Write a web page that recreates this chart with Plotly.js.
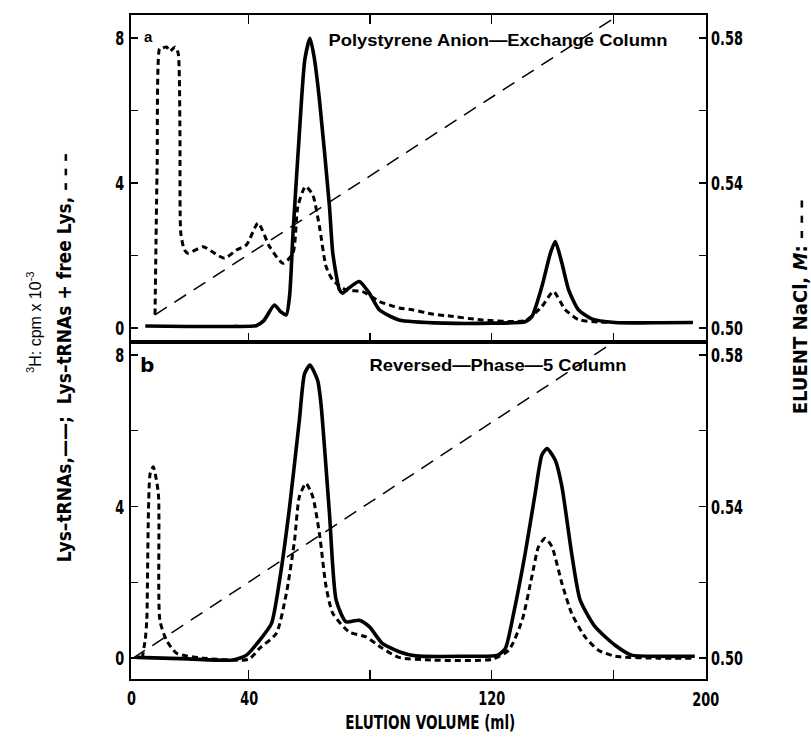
<!DOCTYPE html>
<html>
<head>
<meta charset="utf-8">
<script src="https://cdn.plot.ly/plotly-3.0.1.min.js"></script>
<style>
html,body{margin:0;padding:0;background:#fff;}
#chart{width:811px;height:748px;}
</style>
</head>
<body>
<div id="chart"></div>
<script>
// ---- Panel a: Polystyrene Anion-Exchange Column ----
const aSolidX = [6,20,35,42.5,45,48.5,50.5,52.4,53.5,54.6,56.7,58.5,60.2,61.5,63.3,66.6,67.7,69.9,70.9,73,76.4,79.7,83,89.5,104.8,120,131,133.2,136.5,139.3,140.9,143.1,145.3,148.5,152.9,160.5,175,186.2];
const aSolidY = [0.05,0.04,0.04,0.06,0.2,0.63,0.45,0.36,0.9,2.6,5.37,7.4,7.99,7.5,6.3,3.35,2.06,1.05,0.96,1.1,1.28,0.96,0.5,0.22,0.13,0.13,0.17,0.31,1.14,2.06,2.38,1.78,1.05,0.5,0.25,0.15,0.14,0.15];
const aDashX = [9.2,9.9,10.7,11.4,13,14.1,15.8,16.8,17.4,17.7,18.9,20.1,25,28,32.1,36,39.3,43.1,46.9,51.3,54.6,56.2,58.7,61.1,63.3,65.5,67.7,72,77.5,83,89.5,93.9,100.4,104.8,116.8,131,136.5,140.3,144.2,148.5,155,170,186];
const aDashY = [0.36,4.5,7.7,7.71,7.75,7.63,7.75,7.58,5.4,2.6,2.15,2.06,2.24,2.1,1.92,2.15,2.29,2.89,2.24,1.78,2.06,3.35,3.9,3.67,2.8,1.69,1.32,1.05,1.0,0.73,0.55,0.5,0.38,0.34,0.22,0.2,0.59,1.0,0.5,0.23,0.16,0.15,0.15];
const aNaClX = [9.2,161.3];
const aNaClY = [0.5036,0.586];

// ---- Panel b: Reversed-Phase-5 Column ----
const bSolidX = [3.2,20,34.9,39.3,43.6,47.5,50.2,53.5,56.7,58.4,60.2,62.7,63.8,66.6,68.8,72,76.4,79.7,84,89.5,95,110,122,124.5,127.2,131,134.3,136.5,138.2,140.9,143.1,146.3,149.1,154,160.6,166,175,186.8];
const bSolidY = [0.02,-0.02,-0.05,0.08,0.47,0.91,2.06,4.0,6.28,7.5,7.73,7.33,6.72,3.82,1.53,0.96,1.0,0.83,0.39,0.17,0.06,0.05,0.08,0.26,1.18,2.76,4.35,5.36,5.53,5.22,4.52,2.76,1.53,0.83,0.34,0.08,0.05,0.05];
const bDashX = [5,6,6.5,7.6,8.6,10.3,10.8,13,16.3,25,40,43.6,49.1,52.4,55.1,56.7,58.9,61.1,63.3,65.5,67.7,73.1,78.6,84,89.5,100,120,125.6,130,133.2,135.4,137.6,139.8,143.1,146.3,150.7,155.1,160.6,175,186];
const bDashY = [0,0.5,1.0,4.87,5.05,4.35,1.0,0.47,0.13,0.0,-0.03,0.26,0.65,1.7,3.1,4.26,4.61,4.26,3.29,1.88,1.18,0.69,0.56,0.26,0.02,-0.05,-0.03,0.21,1.0,2.15,2.94,3.16,2.94,1.97,1.18,0.56,0.21,0.05,0.0,0.0];
const bNaClX = [2,159.4];
const bNaClY = [0.500,0.583];

// ---- ticks & labels ----
const xTickVals = [40,80,120,160];
const xLabelVals = [40,120];
const xLabelText = ["40","120"];
const xEdgeLabels = ["0","200"];
const cpmTickVals = [0,2,4,6,8];
const cpmLabelVals = [0,4,8];
const cpmLabelText = ["0","4","8"];
const naclTickVals = [0.50,0.52,0.54,0.56,0.58];
const naclLabelVals = [0.50,0.54,0.58];
const naclLabelText = ["0.50","0.54","0.58"];
const panelLetters = ["a","b"];
const panelTitles = ["Polystyrene Anion\u2014Exchange Column","Reversed\u2014Phase\u20145 Column"];
const xTitle = "ELUTION VOLUME (ml)";
const yTitle1 = "<sup>3</sup>H: cpm x 10<sup>-3</sup>";
const yTitle2 = "Lys\u2013tRNAs,\u2014\u2014;  Lys\u2013tRNAs + free Lys, \u2013 \u2013 \u2013";
const y2Title = "ELUENT NaCl, <i>M</i>: \u2013 \u2013 \u2013";

const narrow = "'DejaVu Sans',sans-serif";
const plain = "'Liberation Sans',Arial,sans-serif";
const tickFont = {family: narrow, size: 19, color: "#000", weight: "bold"};

const solidLine = {color: "#000", width: 3.6, shape: "spline", smoothing: 0.6};
const dashLine = {color: "#000", width: 3, dash: "6px,4px", shape: "spline", smoothing: 0.6};
const naclLine = {color: "#000", width: 1.5, dash: "14px,9px"};

const traces = [
  {x: aSolidX, y: aSolidY, xaxis: "x2", yaxis: "y", mode: "lines", line: solidLine, name: "Lys-tRNAs"},
  {x: aDashX, y: aDashY, xaxis: "x2", yaxis: "y", mode: "lines", line: dashLine, name: "Lys-tRNAs + free Lys"},
  {x: aNaClX, y: aNaClY, xaxis: "x2", yaxis: "y2", mode: "lines", line: naclLine, name: "NaCl"},
  {x: bSolidX, y: bSolidY, xaxis: "x", yaxis: "y3", mode: "lines", line: solidLine, name: "Lys-tRNAs"},
  {x: bDashX, y: bDashY, xaxis: "x", yaxis: "y3", mode: "lines", line: dashLine, name: "Lys-tRNAs + free Lys"},
  {x: bNaClX, y: bNaClY, xaxis: "x", yaxis: "y4", mode: "lines", line: naclLine, name: "NaCl"}
];

const xr = [1.3, 190.5];
const aR = [-0.39, 8.63];
const bR = [-0.55, 8.34];
const split = 0.5075;

const xBase = {range: xr, tickmode: "array", tickvals: xTickVals, showticklabels: false, ticks: "inside", ticklen: 9, tickwidth: 1.5, tickcolor: "#000",
  showline: true, linewidth: 2, linecolor: "#000", showgrid: false, zeroline: false};
const yBase = {tickmode: "array", showticklabels: false, ticks: "inside", ticklen: 7, tickwidth: 1.5, tickcolor: "#000", showline: true, linewidth: 2,
  linecolor: "#000", showgrid: false, zeroline: false};

const annFont = {family: narrow, size: 20, color: "#000", weight: "bold"};
const titleFont = {family: plain, size: 17, color: "#000", weight: "bold"};

const annotations = [
  {text: xEdgeLabels[0], xref: "paper", yref: "paper", x: 0, y: 0, yshift: -19, showarrow: false, font: tickFont, xanchor: "center", yanchor: "middle"},
  {text: xEdgeLabels[1], xref: "paper", yref: "paper", x: 1.0, y: 0, yshift: -20, showarrow: false, font: tickFont, xanchor: "center", yanchor: "middle"},
  {text: panelLetters[0], xref: "paper", yref: "paper", x: 0.0313, y: 0.9669, showarrow: false, font: {family: plain, size: 15, color: "#000", weight: "bold"}, xanchor: "center", yanchor: "middle"},
  {text: panelLetters[1], xref: "paper", yref: "paper", x: 0.0278, y: 0.4729, showarrow: false, font: annFont, xanchor: "center", yanchor: "middle"},
  {text: panelTitles[0], xref: "paper", yref: "paper", x: 0.6374, y: 0.9623, showarrow: false, font: titleFont, xanchor: "center", yanchor: "middle"},
  {text: panelTitles[1], xref: "paper", yref: "paper", x: 0.6374, y: 0.4714, showarrow: false, font: titleFont, xanchor: "center", yanchor: "middle"},
  {text: xTitle, xref: "paper", yref: "paper", x: 0.52, y: -0.0648, showarrow: false, font: annFont, xanchor: "center", yanchor: "middle"},
  {text: yTitle1, xref: "paper", yref: "paper", x: -0.1687, y: 0.5377, showarrow: false, textangle: -90, font: {family: plain, size: 16, color: "#000"}, xanchor: "center", yanchor: "middle"},
  {text: yTitle2, xref: "paper", yref: "paper", x: -0.1165, y: 0.4835, showarrow: false, textangle: -90, font: annFont, xanchor: "center", yanchor: "middle"},
  {text: y2Title, xref: "paper", yref: "paper", x: 1.163, y: 0.560, showarrow: false, textangle: -90, font: annFont, xanchor: "center", yanchor: "middle"}
];
// target lengths (px) of long texts, to mimic the condensed typeface of the original
const annLengths = {4: 339, 5: 257, 6: 170, 8: 409, 9: 215};
// horizontal scale of numeric labels, with the side that stays fixed
const annScale = {0: [0.68, "center"], 1: [0.68, "center"]};

// tick labels, placed through the axes' own scales
function addLabel(a) { annScale[annotations.length] = [0.68, a.xanchor]; annotations.push(a); }
xLabelVals.forEach(function (v, i) {
  addLabel({text: xLabelText[i], xref: "x", yref: "paper", x: v, y: 0, yshift: -19, showarrow: false, font: tickFont, xanchor: "center", yanchor: "middle"});
});
[["y", "y2"], ["y3", "y4"]].forEach(function (pair) {
  cpmLabelVals.forEach(function (v, i) {
    addLabel({text: cpmLabelText[i], xref: "paper", yref: pair[0], x: 0, xshift: -5, y: v, showarrow: false, font: tickFont, xanchor: "right", yanchor: "middle"});
  });
  naclLabelVals.forEach(function (v, i) {
    addLabel({text: naclLabelText[i], xref: "paper", yref: pair[1], x: 1, xshift: 3, y: v, showarrow: false, font: tickFont, xanchor: "left", yanchor: "middle"});
  });
});

const layout = {
  width: 811, height: 748,
  margin: {l: 131, r: 105, t: 15, b: 69},
  paper_bgcolor: "#fff", plot_bgcolor: "#fff",
  showlegend: false,
  xaxis: Object.assign({}, xBase, {anchor: "y3", mirror: true}),
  xaxis2: Object.assign({}, xBase, {anchor: "y", matches: "x", mirror: "ticks"}),
  yaxis: Object.assign({}, yBase, {domain: [split, 1], anchor: "x2", range: aR, tickvals: cpmTickVals}),
  yaxis2: Object.assign({}, yBase, {overlaying: "y", side: "right", anchor: "x2", range: [0.5 + aR[0]/100, 0.5 + aR[1]/100], tickvals: naclTickVals}),
  yaxis3: Object.assign({}, yBase, {domain: [0, split], anchor: "x", range: bR, tickvals: cpmTickVals}),
  yaxis4: Object.assign({}, yBase, {overlaying: "y3", side: "right", anchor: "x", range: [0.5 + bR[0]/100, 0.5 + bR[1]/100], tickvals: naclTickVals}),
  annotations: annotations
};

function squeezeLen(el, len) {
  el.setAttribute("textLength", String(len));
  el.setAttribute("lengthAdjust", "spacingAndGlyphs");
}
function squeezeScale(el, s, side) {
  if (el.getAttribute("data-sq")) return;
  let bb;
  try { bb = el.getBBox(); } catch (e) { return; }
  if (!bb || !bb.width) return;
  const fx = side === "right" ? bb.x + bb.width : (side === "left" ? bb.x : bb.x + bb.width / 2);
  const old = el.getAttribute("transform") || "";
  el.setAttribute("transform", (old + " translate(" + fx + ",0) scale(" + s + ",1) translate(" + (-fx) + ",0)").trim());
  el.setAttribute("data-sq", "1");
}

function condenseAll() {
  const gd = document.getElementById("chart");
  gd.querySelectorAll(".annotation").forEach(function (g, pos) {
    const idx = g.getAttribute("data-index");
    const k = (idx === null) ? pos : parseInt(idx, 10);
    g.querySelectorAll("text").forEach(function (t) {
      if (annLengths[k] !== undefined) squeezeLen(t, annLengths[k]);
      else if (annScale[k] !== undefined) squeezeScale(t, annScale[k][0], annScale[k][1]);
    });
  });
}

Plotly.newPlot("chart", traces, layout, {staticPlot: true, displayModeBar: false}).then(function () {
  condenseAll();
  setTimeout(condenseAll, 30);
});
</script>
</body>
</html>
